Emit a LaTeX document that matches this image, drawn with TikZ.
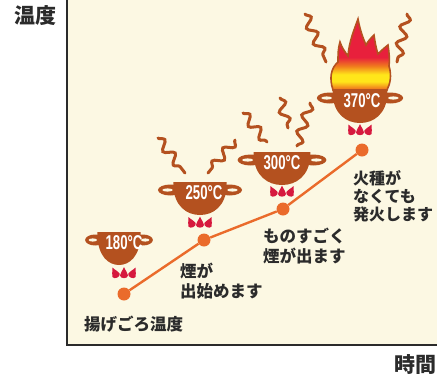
\documentclass[tikz,border=0pt]{standalone}
\usepackage{fontspec}
\setmainfont{Liberation Sans}
\newfontfamily\jpfont{Noto Sans CJK JP}
\usetikzlibrary{decorations.pathmorphing}

\definecolor{cream}{HTML}{FCF8E3}
\definecolor{potbrown}{HTML}{B4511F}
\definecolor{trendorange}{HTML}{EA6B2B}
\definecolor{flamered}{HTML}{D6193E}
\definecolor{inkgray}{HTML}{2B2B2B}
\definecolor{firered}{HTML}{E8203C}
\definecolor{fireorange}{HTML}{F07A1E}
\definecolor{fireyellow}{HTML}{FFE61A}

% flame colours, bottom (orange) to top (red)
\pgfdeclareverticalshading{fire}{100bp}{color(0bp)=(fireorange); color(26bp)=(fireorange);
  color(31bp)=(fireyellow); color(36bp)=(fireyellow); color(42bp)=(fireorange);
  color(48bp)=(firered); color(100bp)=(firered)}

\tikzset{
  axisline/.style={draw=inkgray, line width=2.6},
  jplabel/.style={font=\jpfont\bfseries\fontsize{16.5}{20}\selectfont, text=inkgray,
    inner sep=0pt, align=left, anchor=north west},
  axislabel/.style={font=\jpfont\bfseries\fontsize{21}{21}\selectfont, text=inkgray, inner sep=0pt},
  templabel/.style={font=\bfseries\fontsize{20}{20}\selectfont, text=white, inner sep=0pt},
  dot/.style={circle, fill=trendorange, minimum size=13pt, inner sep=0pt},
  trend/.style={draw=trendorange, line width=2.4},
  steam/.style={draw=potbrown, line width=3pt, line cap=round, decorate,
    decoration={snake, amplitude=4.5pt, segment length=17pt}},
  % frying pot: origin at the middle of the rim
  pot/.pic={
    \foreach \s in {-1,1}{
      \fill[potbrown] (\s*31,8) ellipse [x radius=13, y radius=5.5];
      \fill[cream] (\s*34,8) ellipse [x radius=5.5, y radius=1.6];
    }
    \fill[potbrown] (-28,0) -- (28,0) -- (28,4)
      .. controls (27,24) and (14,33) .. (0,33)
      .. controls (-14,33) and (-27,24) .. (-28,4) -- cycle;
  },
  % three small burner flames
  burner/.pic={
    \foreach \dx/\ang in {-9/25, 0/0, 9/-25}{
      \fill[flamered, shift={(\dx,0)}, rotate=\ang]
        (0,-6) .. controls (1.5,-2) and (4,0) .. (4,2.5)
        .. controls (4,6) and (-4,6) .. (-4,2.5)
        .. controls (-4,0) and (-1.5,-2) .. (0,-6) -- cycle;
    }
  }
}

\begin{document}
\begin{tikzpicture}[x=1pt,y=-1pt]
\useasboundingbox (0,0) rectangle (445,378);

% plotting area and axes
\fill[cream] (67,0) rectangle (437,345);
\draw[axisline] (67,0) -- (67,345) -- (437,345);
\node[axislabel] (ylab) at (36,16) {温度};
\node[axislabel] (xlab) at (415,365) {時間};

% steam
\draw[steam] (158,138) -- (185,173);
\draw[steam] (235,140) -- (208,173);
\draw[steam] (243,113) -- (267,142);
\draw[steam] (280,98) -- (288,128);
\draw[steam] (310,103) -- (297,146);
\draw[steam] (305,14) -- (326,62);
\draw[steam] (407,14) -- (397,62);

% fire above the hottest pot
\draw[draw=potbrown, line width=1.6pt, shading=fire]
  (333,90) .. controls (329,78) and (331,68) .. (338,62)
  .. controls (338,55) and (338,48) .. (340,42)
  .. controls (342,48) and (345,52) .. (348,56)
  .. controls (349,42) and (354,30) .. (358,19)
  .. controls (360,30) and (363,38) .. (366,45)
  .. controls (368,41) and (371,38) .. (374,35)
  .. controls (375,42) and (376,48) .. (378,54)
  .. controls (381,51) and (384,48) .. (388,45)
  .. controls (389,52) and (390,60) .. (389,66)
  .. controls (392,76) and (390,84) .. (387,90) -- cycle;

% pots and burners
\pic[xscale=0.77] at (119,232) {pot};
\pic[xscale=0.955] at (200,182) {pot};
\pic[xscale=1.01] at (282,152) {pot};
\pic[xscale=0.98] at (360,90) {pot};
\pic at (124,273) {burner};
\pic at (200,222.5) {burner};
\pic at (282,191.5) {burner};
\pic at (360,130) {burner};

\node[templabel] (t180) at (124,242.5) {\scalebox{0.66}[1]{180°C}};
\node[templabel] (t250) at (204,192.5) {\scalebox{0.66}[1]{250°C}};
\node[templabel] (t300) at (282,162.5) {\scalebox{0.66}[1]{300°C}};
\node[templabel] (t370) at (362,101) {\scalebox{0.66}[1]{370°C}};

% temperature curve
\node[dot] (p1) at (124,294) {};
\node[dot] (p2) at (204,240) {};
\node[dot] (p3) at (283,209) {};
\node[dot] (p4) at (362,150) {};
\draw[trend] (p1) -- (p2) -- (p3) -- (p4);

% captions
\node[jplabel] (c1) at (84,316) {揚げごろ温度};
\node[jplabel] (c2) at (180,263) {煙が\\出始めます};
\node[jplabel] (c3) at (263,228) {ものすごく\\煙が出ます};
\node[jplabel, font=\jpfont\bfseries\fontsize{16}{18}\selectfont] (c4) at (353,170) {火種が\\なくても\\発火します};
\end{tikzpicture}
\end{document}
